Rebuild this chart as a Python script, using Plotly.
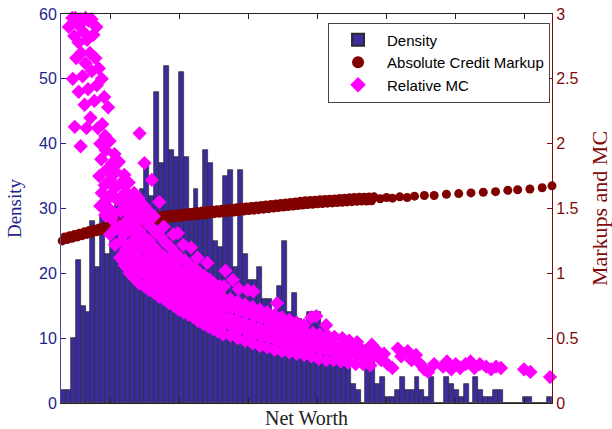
import plotly.graph_objects as go

# ---------------- data ----------------
density = [2, 2, 10, 22, 15, 14, 28, 21, 29, 23,
           27, 31, 30, 33, 32, 30, 33, 37, 32, 48,
           37, 52, 39, 38, 51, 38, 30, 33, 30, 39,
           37, 25, 24, 35, 36, 21, 36, 23, 19, 19,
           21, 16, 16, 14, 18, 25, 14, 17, 13, 11,
           14, 14, 14, 12, 8, 7, 8, 9, 6, 3,
           2, 0, 9, 9, 3, 4, 1, 1, 2, 4,
           2, 2, 4, 2, 1, 4, 0, 0, 4, 3,
           2, 1, 3, 0, 4, 2, 1, 1, 2, 2,
           0, 0, 0, 0, 1, 1, 0, 0, 0, 1]
bin_centers = [i + 0.5 for i in range(len(density))]

abs_x = [0.25, 0.75, 1.25, 1.75, 2.25, 2.75, 3.25, 3.75, 4.25, 4.75,
         5.25, 5.75, 6.25, 6.75, 7.25, 7.75, 8.25, 8.75, 9.25, 9.75,
         10.25, 10.75, 11.25, 11.75, 12.25, 12.75, 13.25, 13.75, 14.25, 14.75,
         15.25, 15.75, 16.25, 16.75, 17.25, 17.75, 18.25, 18.75, 19.25, 19.75,
         20.25, 20.75, 21.25, 21.75, 22.25, 22.75, 23.25, 23.75, 24.25, 24.75,
         25.25, 25.75, 26.25, 26.75, 27.25, 27.75, 28.25, 28.75, 29.25, 29.75,
         30.25, 30.75, 31.25, 31.75, 32.25, 32.75, 33.25, 33.75, 34.25, 34.75,
         35.25, 35.75, 36.25, 36.75, 37.25, 37.75, 38.25, 38.75, 39.25, 39.75,
         40.25, 40.75, 41.25, 41.75, 42.25, 42.75, 43.25, 43.75, 44.25, 44.75,
         45.25, 45.75, 46.25, 46.75, 47.25, 47.75, 48.25, 48.75, 49.25, 49.75,
         50.25, 50.75, 51.25, 51.75, 52.25, 52.75, 53.25, 53.75, 54.25, 54.75,
         55.25, 55.75, 56.25, 56.75, 57.25, 57.75, 58.25, 58.75, 59.25, 59.75,
         60.25, 60.75, 61.25, 61.75, 62.25, 62.75, 63.25, 63.75,
         65, 66.3, 67.5, 69, 70.5, 72, 74, 76, 78.5, 81, 83.5, 86, 88.5, 91, 93, 95.5, 98, 100]
abs_y = [1.25, 1.28, 1.26, 1.29, 1.27, 1.30, 1.28, 1.31, 1.29, 1.32,
         1.30, 1.33, 1.31, 1.34, 1.32, 1.35, 1.33, 1.36, 1.34, 1.37,
         1.35, 1.38, 1.35, 1.39, 1.36, 1.39, 1.37, 1.40, 1.375, 1.41,
         1.38, 1.415, 1.39, 1.42, 1.395, 1.43, 1.40, 1.435, 1.41, 1.44,
         1.416, 1.448, 1.42, 1.452, 1.424, 1.456, 1.428, 1.46, 1.432, 1.464,
         1.436, 1.468, 1.44, 1.472, 1.444, 1.476, 1.448, 1.48, 1.452, 1.484,
         1.456, 1.488, 1.46, 1.49, 1.463, 1.495, 1.466, 1.498, 1.47, 1.502,
         1.473, 1.505, 1.477, 1.509, 1.48, 1.512, 1.484, 1.516, 1.487, 1.519,
         1.491, 1.523, 1.495, 1.527, 1.499, 1.531, 1.503, 1.535, 1.507, 1.539,
         1.511, 1.543, 1.515, 1.547, 1.519, 1.551, 1.523, 1.555, 1.527, 1.559,
         1.531, 1.562, 1.533, 1.564, 1.536, 1.567, 1.538, 1.569, 1.541, 1.572,
         1.543, 1.574, 1.546, 1.577, 1.548, 1.579, 1.551, 1.582, 1.553, 1.584,
         1.556, 1.586, 1.557, 1.587, 1.558, 1.588, 1.56, 1.59,
         1.575, 1.585, 1.58, 1.59, 1.585, 1.595, 1.60, 1.60, 1.61, 1.615, 1.62, 1.625,
         1.63, 1.64, 1.645, 1.65, 1.66, 1.675]

mc_x = [
    # upper-left scatter
    1.6, 2.3, 2.9, 3.4, 3.9, 4.4, 5.0, 5.6, 6.2, 2.7, 3.6, 4.6, 5.3, 6.6, 7.2, 3.1, 4.1, 5.0,
    5.9, 7.0, 2.4, 4.4, 6.3, 7.7, 3.6, 5.5, 7.3, 8.3, 4.8, 6.8, 8.8, 2.8, 6.0, 9.6, 5.2, 7.5, 4.0,
    # dense band
    8, 8.3, 7.8, 8.2, 8, 8.4,
    9, 9.2, 8.9, 9.3, 9.1, 9,
    10, 10.3, 9.8, 10.2, 10, 10.4, 9.9,
    11, 11.2, 10.8, 11.3, 11, 11.2, 10.9,
    12, 12.3, 11.9, 12.2, 12, 12.3, 11.8,
    13, 13.2, 12.8, 13.3, 13, 13.2, 12.9,
    14, 14.3, 13.9, 14.2, 14, 14.3, 13.8,
    15, 15.2, 14.8, 15.3, 15, 15.2, 14.9,
    16, 16.3, 15.9, 16.2, 16, 16.3, 15.8,
    17, 17.2, 16.8, 17.3, 17, 17.2, 16.9,
    18, 18.3, 17.9, 18.2, 18, 18.3, 17.8,
    19, 19.2, 18.8, 19.3, 19, 19.2, 18.9,
    20, 20.3, 19.9, 20.2, 20, 20.3,
    21, 21.2, 20.8, 21.3, 21, 21.2, 20.9,
    22, 22.3, 21.9, 22.2, 22, 22.3,
    23, 23.2, 22.8, 23.3, 23, 23.2, 22.9,
    24, 24.3, 23.9, 24.2, 24, 24.3,
    25, 25.2, 24.8, 25.3, 25, 25.2, 24.9,
    26, 26.3, 25.9, 26.2, 26, 26.3,
    27, 27.2, 26.8, 27.3, 27, 27.2,
    28, 28.3, 27.9, 28.2, 28, 28.3, 27.8,
    29, 29.2, 28.8, 29.3, 29, 29.2,
    30, 30.3, 29.9, 30.2, 30, 30.3, 29.8,
    31, 31.2, 30.8, 31.3, 31, 31.2,
    32, 32.3, 31.9, 32.2, 32, 32.3,
    33, 33.2, 32.8, 33.3, 33, 33.2,
    34.5, 34.8, 34.3, 34.7, 34.5,
    36, 36.2, 35.8, 36.3, 36, 36.2,
    37.5, 37.8, 37.3, 37.7, 37.5,
    39, 39.2, 38.8, 39.3, 39, 39.2,
    40.5, 40.8, 40.3, 40.7, 40.5,
    42, 42.2, 41.8, 42.3, 42,
    43.5, 43.8, 43.3, 43.7, 43.5,
    45, 45.2, 44.8, 45.3, 45,
    46.5, 46.8, 46.3, 46.7, 46.5,
    48, 48.2, 47.8, 48.3, 48,
    49.5, 49.8, 49.3, 49.7, 49.5,
    51, 51.2, 50.8, 51.3, 51,
    52.5, 52.8, 52.3, 52.7,
    54, 54.2, 53.8, 54.3, 54,
    55.5, 55.8, 55.3, 55.7,
    57, 57.2, 56.8, 57.3,
    58.5, 58.8, 58.3, 58.7,
    60, 60.2, 59.8, 60.3,
    61.5, 61.8, 61.3,
    63, 63.2, 62.8, 63.3,
    # outliers
    16, 17, 18.5, 20, 23.8, 26.5, 38, 33.5, 44, 52, 35,
    # sparse right tail
    64.5, 65.2, 65.8, 66.5, 67.5, 68.6, 69.3, 70.6, 71.4, 72.3, 73.2, 74.0, 74.8, 76.0,
    77.8, 78.6, 79.5, 80.4, 81.3, 82.4, 83.4, 84.2, 85.3, 86.6, 87.6, 88.6, 89.6, 94.3,
    95.6, 99.6]
mc_y = [
    2.90, 2.97, 2.97, 2.92, 2.96, 2.94, 2.97, 2.95, 2.96, 2.83, 2.78, 2.86, 2.80, 2.84, 2.90,
    2.66, 2.70, 2.62, 2.70, 2.66, 2.50, 2.52, 2.56, 2.58, 2.40, 2.42, 2.45, 2.50, 2.30, 2.33,
    2.36, 2.13, 2.20, 2.28, 2.12, 2.12, 1.98,
    1.52, 1.62, 1.75, 1.88, 2.00, 2.15,
    1.45, 1.56, 1.68, 1.80, 1.95, 2.06,
    1.30, 1.42, 1.50, 1.61, 1.72, 1.85, 2.02,
    1.22, 1.35, 1.46, 1.57, 1.66, 1.78, 1.92,
    1.12, 1.25, 1.36, 1.48, 1.58, 1.70, 1.86,
    1.06, 1.18, 1.30, 1.40, 1.52, 1.63, 1.76,
    1.00, 1.12, 1.22, 1.33, 1.45, 1.56, 1.70,
    0.96, 1.06, 1.17, 1.27, 1.38, 1.50, 1.62,
    0.92, 1.02, 1.12, 1.22, 1.33, 1.44, 1.58,
    0.90, 0.99, 1.08, 1.18, 1.28, 1.40, 1.52,
    0.87, 0.96, 1.05, 1.14, 1.25, 1.36, 1.48,
    0.85, 0.93, 1.02, 1.10, 1.20, 1.32, 1.44,
    0.82, 0.90, 0.99, 1.07, 1.16, 1.28,
    0.80, 0.88, 0.96, 1.04, 1.13, 1.24, 1.36,
    0.77, 0.85, 0.93, 1.01, 1.10, 1.20,
    0.75, 0.83, 0.91, 0.98, 1.06, 1.16, 1.30,
    0.72, 0.80, 0.88, 0.95, 1.03, 1.12,
    0.70, 0.78, 0.85, 0.93, 1.01, 1.10, 1.22,
    0.68, 0.75, 0.83, 0.90, 0.98, 1.06,
    0.66, 0.73, 0.80, 0.87, 0.95, 1.04,
    0.63, 0.70, 0.78, 0.85, 0.92, 1.00, 1.12,
    0.61, 0.68, 0.75, 0.82, 0.90, 0.98,
    0.59, 0.66, 0.73, 0.80, 0.87, 0.95, 1.08,
    0.57, 0.64, 0.71, 0.78, 0.85, 0.92,
    0.55, 0.62, 0.69, 0.76, 0.83, 0.90,
    0.53, 0.60, 0.67, 0.74, 0.81, 0.90,
    0.52, 0.59, 0.66, 0.73, 0.80,
    0.50, 0.57, 0.64, 0.71, 0.78, 0.88,
    0.48, 0.55, 0.62, 0.69, 0.76,
    0.46, 0.53, 0.60, 0.67, 0.74, 0.86,
    0.44, 0.51, 0.58, 0.65, 0.72,
    0.43, 0.50, 0.57, 0.63, 0.70,
    0.41, 0.48, 0.55, 0.61, 0.68,
    0.40, 0.46, 0.53, 0.59, 0.66,
    0.39, 0.45, 0.51, 0.57, 0.64,
    0.38, 0.44, 0.50, 0.56, 0.62,
    0.37, 0.43, 0.49, 0.55, 0.60,
    0.36, 0.42, 0.48, 0.54, 0.66,
    0.34, 0.41, 0.47, 0.53,
    0.33, 0.40, 0.46, 0.52, 0.60,
    0.33, 0.39, 0.45, 0.51,
    0.32, 0.38, 0.44, 0.50,
    0.31, 0.37, 0.43, 0.48,
    0.30, 0.36, 0.42, 0.47,
    0.30, 0.36, 0.41,
    0.29, 0.35, 0.40, 0.45,
    2.08, 1.85, 1.72, 1.55, 1.31, 1.20, 0.87, 1.02, 0.77, 0.67, 0.95,
    0.40, 0.33, 0.38, 0.30, 0.27, 0.42, 0.36, 0.40, 0.33, 0.37, 0.30, 0.26, 0.24, 0.30,
    0.28, 0.32, 0.26, 0.30, 0.27, 0.30, 0.32, 0.27, 0.30, 0.28, 0.26, 0.28, 0.27, 0.26,
    0.24, 0.20]

x_tickvals = [10, 24.1, 38.1, 52.2, 66.2, 80.3, 94.3]
y1_ticks = [0, 10, 20, 30, 40, 50, 60]
y2_ticks = [0, 0.5, 1, 1.5, 2, 2.5, 3]

# ---------------- styling ----------------
BAR = "#3b2c9e"
BLUE_TXT = "#23238c"
RED_TXT = "#7f0a0a"
MAROON = "#800000"
MAGENTA = "#ff00ff"
SANS = "Liberation Sans, Arial, sans-serif"
SERIF = "Liberation Serif, Times New Roman, serif"

fig = go.Figure()
fig.add_trace(go.Bar(
    x=bin_centers, y=density, width=1.0, name="Density",
    marker=dict(color=BAR, line=dict(color="#2a2a2a", width=0.7)),
    yaxis="y"))
fig.add_trace(go.Scatter(
    x=abs_x, y=abs_y, mode="markers", name="Absolute Credit Markup",
    marker=dict(symbol="circle", size=9, color=MAROON, line=dict(width=0)),
    yaxis="y2", cliponaxis=False))
fig.add_trace(go.Scatter(
    x=mc_x, y=mc_y, mode="markers", name="Relative MC",
    marker=dict(symbol="diamond", size=11, color=MAGENTA, line=dict(width=0)),
    yaxis="y2", cliponaxis=False))

fig.update_layout(
    width=612, height=429,
    margin=dict(l=61, r=60, t=14, b=26, autoexpand=False),
    paper_bgcolor="white", plot_bgcolor="white",
    bargap=0,
    showlegend=True,
    legend=dict(
        x=0.996, y=0.978, xanchor="right", yanchor="top",
        bgcolor="white", bordercolor="#444444", borderwidth=1,
        font=dict(family=SANS, size=15, color="black"),
        tracegroupgap=0, itemsizing="constant", itemwidth=48),
    xaxis=dict(
        range=[0, 100], showgrid=False, zeroline=False, automargin=False,
        tickvals=x_tickvals, ticktext=[""] * len(x_tickvals),
        ticks="inside", ticklen=5, tickcolor="#222222",
        showline=True, linecolor="#222222", linewidth=1, mirror="ticks",
        title=dict(text="Net Worth", standoff=7,
                   font=dict(family=SERIF, size=20, color="#222222"))),
    yaxis=dict(
        range=[0, 60], tickvals=y1_ticks, showgrid=False, zeroline=False, automargin=False,
        ticks="inside", ticklen=5, tickcolor=BLUE_TXT,
        showline=True, linecolor="#4a4aa8", linewidth=1,
        tickfont=dict(family=SANS, size=16, color=BLUE_TXT),
        title=dict(text="Density", standoff=12,
                   font=dict(family=SERIF, size=19, color=BLUE_TXT))),
    yaxis2=dict(
        range=[0, 3], tickvals=y2_ticks, overlaying="y", side="right",
        showgrid=False, zeroline=False, automargin=False,
        ticks="inside", ticklen=5, tickcolor=RED_TXT,
        showline=True, linecolor=RED_TXT, linewidth=1,
        tickfont=dict(family=SANS, size=16, color=RED_TXT),
        title=dict(text="Markups and MC", standoff=16,
                   font=dict(family=SERIF, size=22, color=RED_TXT))),
)

fig.write_html("out.html")
